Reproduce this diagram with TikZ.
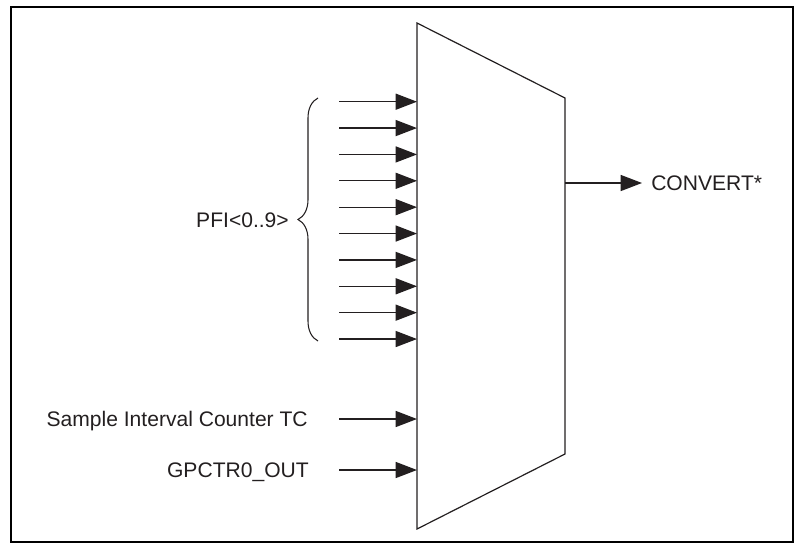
\documentclass[tikz,border=0pt]{standalone}
\usepackage{fontspec}
\setmainfont{Liberation Sans}
\usepackage{tikz}
\usetikzlibrary{arrows.meta,positioning,calc,decorations.pathreplacing}
\definecolor{MuxLine}{HTML}{231F20}

\begin{document}
\begin{tikzpicture}[x=0.75pt,y=0.75pt,font=\fontsize{15.8}{18}\selectfont,
  sig/.style={MuxLine,line width=1pt,-{Triangle[length=16pt,width=12pt]}},
  lbl/.style={inner sep=0pt,text height=11.2pt,text depth=0pt,text=MuxLine}]
  \useasboundingbox (0,0) rectangle (802,544);
  \draw[line width=1.6pt] (11,2) rectangle (793,537);
  % multiplexer body
  \draw[MuxLine,line width=0.9pt] (417,521) -- (565,446) -- (565,90) -- (417,15) -- cycle;
  % PFI inputs
  \foreach \i in {0,...,9} {
    \coordinate (pfi\i) at (339,{442.3-26.37*\i});
    \coordinate (in\i) at (417,{442.3-26.37*\i});
    \draw[sig] (pfi\i) -- (in\i);
  }
  \draw[MuxLine,line width=0.8pt,decorate,decoration={brace,amplitude=15pt,aspect=0.5}]
    (318,203) -- (318,446);
  \node[lbl,anchor=east] (pfi) at (289,324) {PFI<0..9>};
  % other inputs
  \node[lbl,anchor=east,inner xsep=23.25pt] (sic) at (339,125) {Sample Interval Counter TC};
  \node[lbl,anchor=east,inner xsep=22.5pt] (gpctr) at (339,74) {GPCTR0\_OUT};
  \coordinate (inS) at (417,125);
  \coordinate (inG) at (417,74);
  \draw[sig] (sic) -- (inS);
  \draw[sig] (gpctr) -- (inG);
  % output
  \coordinate (muxout) at (565,361);
  \node[lbl,anchor=west,inner xsep=6.75pt] (convert) at (642,361) {CONVERT*};
  \draw[sig] (muxout) -- (convert);
\end{tikzpicture}
\end{document}
